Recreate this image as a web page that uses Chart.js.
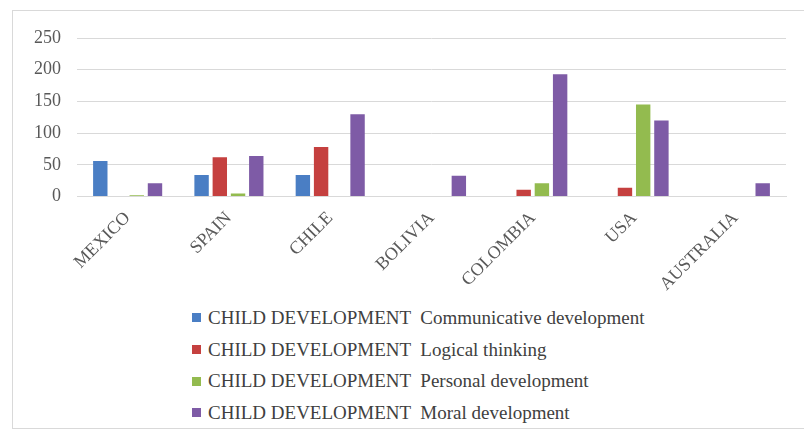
<!DOCTYPE html>
<html>
<head>
<meta charset="utf-8">
<script src="https://cdn.jsdelivr.net/npm/chart.js@4/dist/chart.umd.min.js"></script>
<style>
  body { margin: 0; background: #fff; }
  #frame {
    position: absolute; left: 12px; top: 10px; width: 800px; height: 419px;
    border: 1px solid #d9d9d9; box-sizing: border-box;
  }
  #wrap { position: absolute; left: 0; top: 0; width: 804px; height: 298px; }
  #legend {
    position: absolute; left: 192px; top: 302px;
    font-family: "Liberation Serif", "Times New Roman", serif; font-size: 19px; color: #404040;
  }
  .item { height: 31.7px; line-height: 26px; white-space: pre; display: flex; align-items: center; }
  .box { width: 9px; height: 9px; margin-right: 7px; }
</style>
</head>
<body>
<div id="frame"></div>
<div id="wrap"><canvas id="chart"></canvas></div>
<div id="legend"></div>
<script>
const countries = ["MEXICO", "SPAIN", "CHILE", "BOLIVIA", "COLOMBIA", "USA", "AUSTRALIA"];
const seriesNames = [
  "CHILD DEVELOPMENT  Communicative development",
  "CHILD DEVELOPMENT  Logical thinking",
  "CHILD DEVELOPMENT  Personal development",
  "CHILD DEVELOPMENT  Moral development",
];
const communicative = [56, 34, 34, 0, 1, 0, 0];
const logical = [0, 62, 78, 0, 11, 14, 0];
const personal = [2, 5, 1, 0, 21, 145, 0];
const moral = [21, 64, 130, 33, 193, 120, 21];
const colors = ["#4a7ec4", "#c5403f", "#93bb4f", "#7e5ba6"];

const values = [communicative, logical, personal, moral];

const ctx = document.getElementById("chart");
new Chart(ctx, {
  type: "bar",
  data: {
    labels: countries,
    datasets: values.map((data, i) => ({
      label: seriesNames[i],
      data: data,
      backgroundColor: colors[i],
      categoryPercentage: 0.72,
      barPercentage: 0.79,
    })),
  },
  options: {
    responsive: true,
    maintainAspectRatio: false,
    animation: false,
    // the rotated MEXICO label already pushes the plot right, so keep the left padding small
    layout: { padding: { left: 18, right: 18, top: 38, bottom: 0 } },
    plugins: { legend: { display: false }, tooltip: { enabled: false } },
    scales: {
      x: {
        grid: { display: false },
        border: { display: true, color: "#d9d9d9" },
        ticks: {
          minRotation: 45,
          maxRotation: 45,
          color: "#595959",
          font: { family: "'Liberation Serif', serif", size: 18 },
        },
      },
      y: {
        min: 0,
        max: 250,
        ticks: {
          stepSize: 50,
          padding: 16,
          color: "#595959",
          font: { family: "'Liberation Serif', serif", size: 18 },
        },
        grid: { color: "#d9d9d9", drawTicks: false },
        border: { display: false },
      },
    },
  },
});

const legend = document.getElementById("legend");
seriesNames.forEach((name, i) => {
  const row = document.createElement("div");
  row.className = "item";
  const box = document.createElement("span");
  box.className = "box";
  box.style.background = colors[i];
  const text = document.createElement("span");
  text.textContent = name;
  row.appendChild(box);
  row.appendChild(text);
  legend.appendChild(row);
});
</script>
</body>
</html>
